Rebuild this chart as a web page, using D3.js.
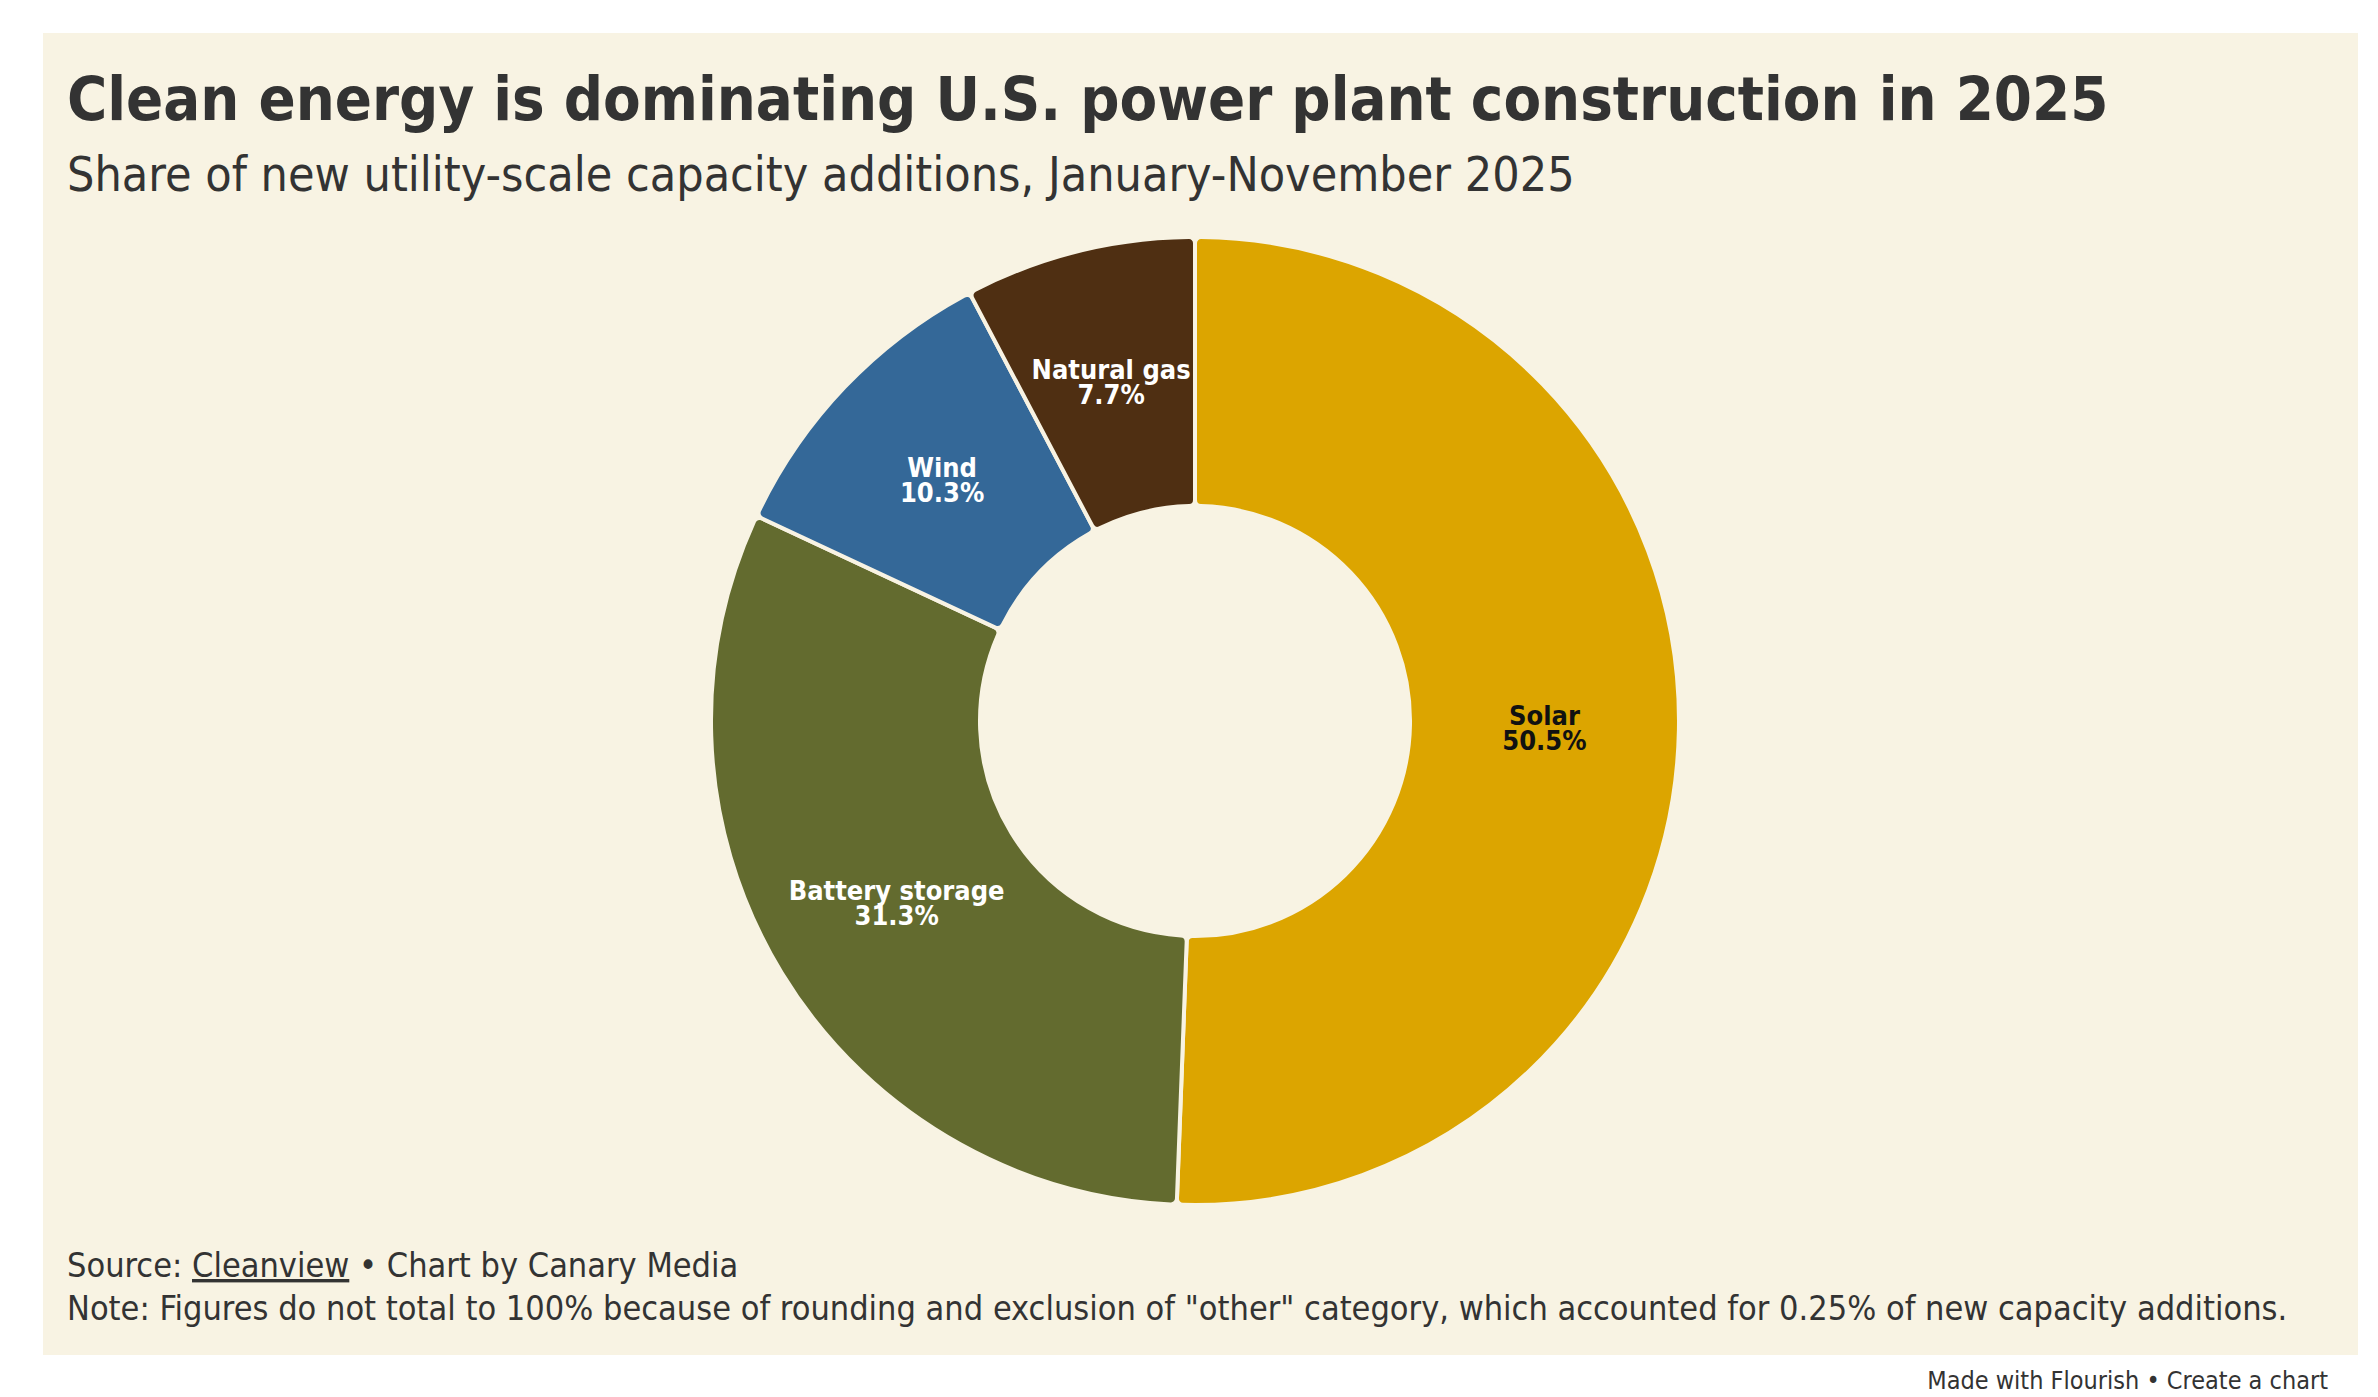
<!DOCTYPE html>
<html>
<head>
<meta charset="utf-8">
<script src="https://cdn.jsdelivr.net/npm/d3@7"></script>
<style>
  body { margin: 0; background: #fff; }
  svg text { font-family: "Liberation Sans Narrow", "DejaVu Sans Condensed", "Roboto", sans-serif; }
</style>
</head>
<body>
<svg id="chart"></svg>
<script>
// ===== DADOS =====
const categories = ["Solar", "Battery storage", "Wind", "Natural gas"];
const shares = [50.5, 31.3, 10.3, 7.7];
const sliceColors = ["#dca500", "#636b2f", "#346898", "#4f2f12"];
const labelColors = ["#111111", "#ffffff", "#ffffff", "#ffffff"];

const W = 2378, H = 1397;
const cx = 1195, cy = 721;
const outerR = 484, innerR = 215;

const svg = d3.select("#chart").attr("width", W).attr("height", H);

// fundo bege
svg.append("rect")
  .attr("x", 43).attr("y", 33)
  .attr("width", 2315).attr("height", 1322)
  .attr("fill", "#f8f3e3");

// ===== TÍTULOS =====
svg.append("text")
  .attr("x", 67).attr("y", 120)
  .attr("font-size", 61).attr("font-weight", 700)
  .attr("fill", "#333")
  .text("Clean energy is dominating U.S. power plant construction in 2025");

svg.append("text")
  .attr("x", 67).attr("y", 191)
  .attr("font-size", 48).attr("font-weight", 300)
  .attr("fill", "#333")
  .text("Share of new utility-scale capacity additions, January-November 2025");

// ===== DONUT =====
const data = categories.map((c, i) => ({ name: c, value: shares[i], color: sliceColors[i], label: labelColors[i] }));

const pie = d3.pie().sort(null).value(d => d.value);
const arc = d3.arc().innerRadius(innerR).outerRadius(outerR).cornerRadius(6);
const arcs = pie(data);

const g = svg.append("g").attr("transform", `translate(${cx},${cy})`);

// cada rótulo é recortado pela sua fatia
g.append("defs").selectAll("clipPath")
  .data(arcs)
  .join("clipPath")
  .attr("id", (d, i) => "clip-" + i)
  .append("path")
  .attr("d", arc);

g.selectAll("path.slice")
  .data(arcs)
  .join("path")
  .attr("class", "slice")
  .attr("d", arc)
  .attr("fill", d => d.data.color)
  .attr("stroke", "#f8f3e3")
  .attr("stroke-width", 4);

const labels = g.selectAll("g.label")
  .data(arcs)
  .join("g")
  .attr("class", "label")
  .attr("clip-path", (d, i) => `url(#clip-${i})`);

labels.append("text")
  .attr("text-anchor", "middle")
  .attr("font-size", 27).attr("font-weight", 700)
  .attr("fill", d => d.data.label)
  .attr("transform", d => `translate(${arc.centroid(d)})`)
  .call(t => t.append("tspan").attr("x", 0).attr("y", -3).text(d => d.data.name))
  .call(t => t.append("tspan").attr("x", 0).attr("y", 22).text(d => d.data.value.toFixed(1) + "%"));

// ===== RODAPÉ =====
const src = svg.append("text")
  .attr("x", 67).attr("y", 1277)
  .attr("font-size", 34).attr("fill", "#333");
src.append("tspan").text("Source: ");
src.append("tspan").attr("text-decoration", "underline").text("Cleanview");
src.append("tspan").text(" • Chart by Canary Media");

svg.append("text")
  .attr("x", 67).attr("y", 1320)
  .attr("font-size", 34).attr("fill", "#333")
  .text("Note: Figures do not total to 100% because of rounding and exclusion of \"other\" category, which accounted for 0.25% of new capacity additions.");

svg.append("text")
  .attr("x", 2328).attr("y", 1389)
  .attr("text-anchor", "end")
  .attr("font-size", 25).attr("fill", "#333")
  .text("Made with Flourish • Create a chart");
</script>
</body>
</html>
